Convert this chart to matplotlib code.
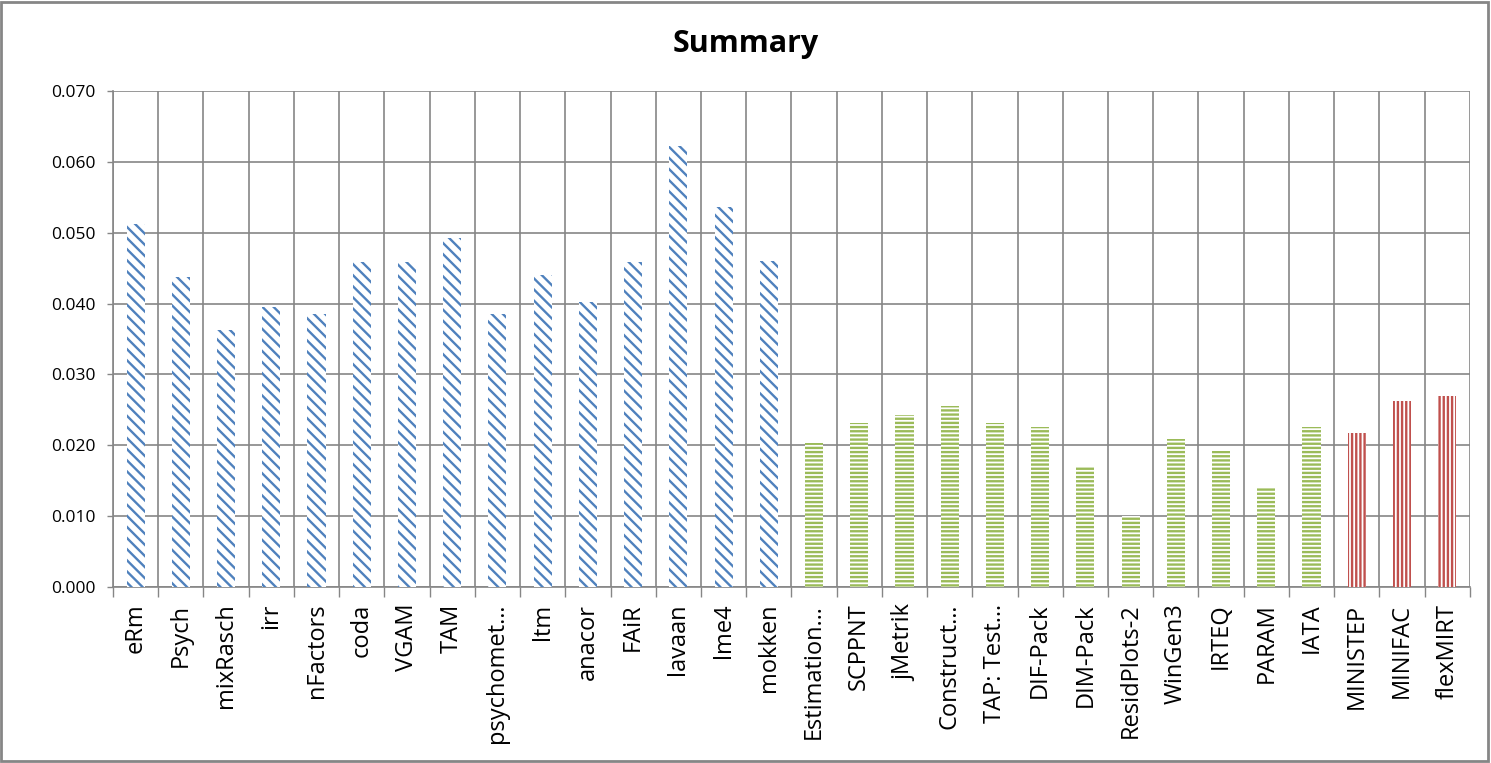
import matplotlib.pyplot as plt
import numpy as np
from matplotlib.patches import Rectangle

GRID = "#868686"
BLUE = "#4F81BD"
GREEN = "#9BBB59"
RED = "#C0504D"

r_packages = ["eRm", "Psych", "mixRasch", "irr", "nFactors", "coda", "VGAM", "TAM",
              "psychomet\u2026", "ltm", "anacor", "FAiR", "lavaan", "lme4", "mokken"]
r_values = [0.0513, 0.0438, 0.0362, 0.0395, 0.0385, 0.0458, 0.0458, 0.0492,
            0.0385, 0.0441, 0.0402, 0.0458, 0.0622, 0.0537, 0.0460]

free_packages = ["Estimation\u2026", "SCPPNT", "jMetrik", "Construct\u2026", "TAP: Test\u2026",
                 "DIF-Pack", "DIM-Pack", "ResidPlots-2", "WinGen3", "IRTEQ", "PARAM", "IATA"]
free_values = [0.0203, 0.0232, 0.0243, 0.0255, 0.0232, 0.0226, 0.0169, 0.0100,
               0.0209, 0.0192, 0.0141, 0.0226]

comm_packages = ["MINISTEP", "MINIFAC", "flexMIRT"]
comm_values = [0.0218, 0.0263, 0.0270]

plt.rcParams["font.family"] = ["Open Sans", "DejaVu Sans"]
plt.rcParams["hatch.linewidth"] = 1.7

fig = plt.figure(figsize=(14.91, 7.63), dpi=100, facecolor="white")
fig.patches.append(Rectangle((0.001, 0.002), 0.997, 0.996, transform=fig.transFigure,
                             fill=False, edgecolor=GRID, linewidth=2))
ax = fig.add_axes([0.0758, 0.2307, 0.910, 0.650])

labels = r_packages + free_packages + comm_packages
groups = [(r_values, BLUE, "\\\\\\"), (free_values, GREEN, "----"), (comm_values, RED, "||||")]
start = 0
for vals, col, hatch in groups:
    x = np.arange(start, start + len(vals))
    ax.bar(x, vals, width=0.4, facecolor="white", edgecolor=col, linewidth=0,
           hatch=hatch, zorder=3)
    start += len(vals)

n = len(labels)
ax.set_xlim(-0.5, n - 0.5)
ax.set_ylim(0, 0.070)
ax.set_yticks(np.arange(0, 0.0701, 0.010))
ax.set_yticklabels([f"{v:.3f}" for v in np.arange(0, 0.0701, 0.010)])
ax.set_xticks(np.arange(n))
ax.set_xticklabels(labels, rotation=90, fontsize=17)
ax.set_xticks(np.arange(n + 1) - 0.5, minor=True)
ax.tick_params(axis="x", which="major", length=0, pad=12)
ax.tick_params(axis="x", which="minor", length=7.5, color=GRID, width=1)
ax.tick_params(axis="y", length=4.5, color=GRID, width=1, labelsize=12.5, pad=8)
ax.grid(axis="y", which="major", color=GRID, linewidth=1.2, zorder=0)
ax.grid(axis="x", which="minor", color=GRID, linewidth=1.2, zorder=0)
ax.set_axisbelow(True)
for s in ("top", "right"):
    ax.spines[s].set_visible(False)
for s in ("left", "bottom"):
    ax.spines[s].set_color(GRID)
    ax.spines[s].set_linewidth(1.2)

fig.text(0.5, 0.942, "Summary", ha="center", va="center", fontsize=22, fontweight="bold")

fig.savefig("out.png", dpi=100, facecolor="white")
